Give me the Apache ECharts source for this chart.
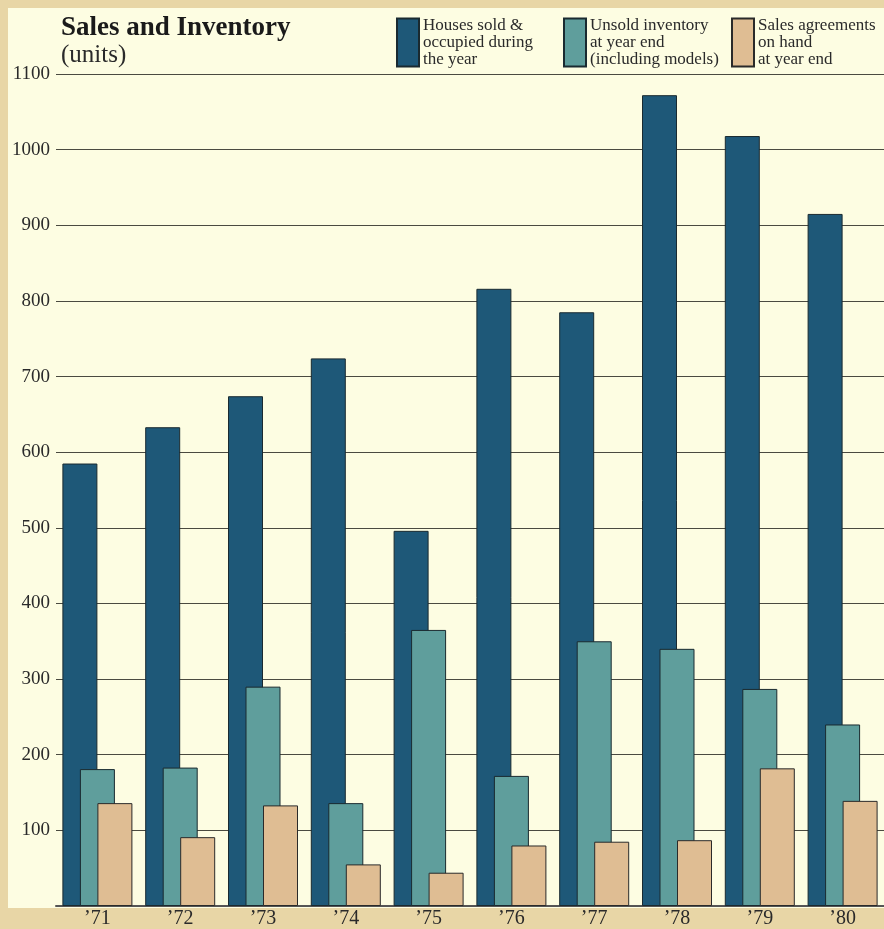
<!DOCTYPE html>
<html>
<head>
<meta charset="utf-8">
<script src="https://cdn.jsdelivr.net/npm/echarts@6/dist/echarts.min.js"></script>
<style>
html,body{margin:0;padding:0;background:#e8d6a6;}
#chart{width:884px;height:929px;}
</style>
</head>
<body>
<div id="chart"></div>
<script>
const years = ['’71','’72','’73','’74','’75','’76','’77','’78','’79','’80'];
const housesSold = [585, 633, 674, 724, 496, 816, 785, 1072, 1018, 915];
const unsoldInventory = [181, 183, 290, 136, 365, 172, 350, 340, 287, 240];
const salesAgreements = [136, 91, 133, 55, 44, 80, 85, 87, 182, 139];
const seriesNames = [
  'Houses sold &\noccupied during\nthe year',
  'Unsold inventory\nat year end\n(including models)',
  'Sales agreements\non hand\nat year end'
];
const yTicks = {min: 0, max: 1100, interval: 100};

const serif = '"Liberation Serif", "DejaVu Serif", serif';
const chart = echarts.init(document.getElementById('chart'), null, {renderer: 'canvas'});
const colors = ['#1e5878', '#5f9e9c', '#dfbd93'];
function legendAt(left, name) {
  return {
    left: left, top: 17, orient: 'horizontal', padding: 0,
    data: [name], icon: 'rect', itemWidth: 22, itemHeight: 48, itemGap: 0,
    textStyle: {fontFamily: serif, fontSize: 17, lineHeight: 17, color: '#2a2a2a', padding: [0,0,0,-1]},
    selectedMode: false
  };
}
chart.setOption({
  backgroundColor: '#e8d6a6',
  animation: false,
  graphic: [{type: 'rect', z: -10, shape: {x: 8, y: 8, width: 876, height: 900}, style: {fill: '#fdfde2'}}],
  title: {
    text: 'Sales and Inventory', subtext: '(units)', left: 56, top: 15, itemGap: 1, padding: [0,0,0,5],
    textStyle: {fontFamily: serif, fontSize: 27, fontWeight: 'bold', color: '#1a1a1a'},
    subtextStyle: {fontFamily: serif, fontSize: 25, color: '#2a2a2a'}
  },
  legend: [legendAt(396, seriesNames[0]), legendAt(563, seriesNames[1]), legendAt(731, seriesNames[2])],
  grid: {left: 56, top: 74, width: 834, height: 834, containLabel: false},
  xAxis: {
    type: 'category', data: years, boundaryGap: true,
    axisLine: {lineStyle: {color: '#555', width: 2}},
    axisTick: {show: false},
    axisLabel: {fontFamily: serif, fontSize: 20, color: '#2a2a2a', margin: 3}
  },
  yAxis: {
    type: 'value', min: yTicks.min, max: yTicks.max, interval: yTicks.interval,
    axisLine: {show: false}, axisTick: {show: false},
    axisLabel: {fontFamily: serif, fontSize: 19, color: '#2a2a2a', margin: 6, showMinLabel: false,
      formatter: v => String(v)},
    splitLine: {lineStyle: {color: '#4a4a40', width: 1}}
  },
  series: [
    {name: seriesNames[0], type: 'bar', data: housesSold, barWidth: 35, barGap: '-50%',
     itemStyle: {color: colors[0], borderColor: '#1a2a30', borderWidth: 1}},
    {name: seriesNames[1], type: 'bar', data: unsoldInventory, barWidth: 35, barGap: '-50%',
     itemStyle: {color: colors[1], borderColor: '#1a2a30', borderWidth: 1}},
    {name: seriesNames[2], type: 'bar', data: salesAgreements, barWidth: 35, barGap: '-50%',
     itemStyle: {color: colors[2], borderColor: '#2a2a2a', borderWidth: 1}}
  ]
});
</script>
</body>
</html>
